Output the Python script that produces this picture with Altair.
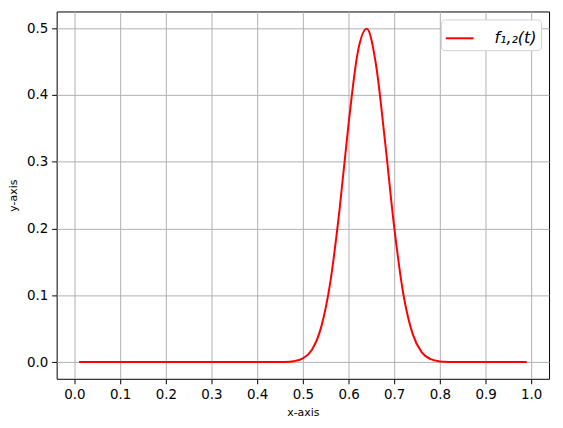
import altair as alt
import pandas as pd

# Curve samples (t, f_{1,2}(t))
t_vals = [0.01, 0.10, 0.20, 0.30, 0.40, 0.42, 0.44, 0.46, 0.48, 0.50, 0.52, 0.54,
          0.56, 0.58, 0.60, 0.62, 0.64, 0.66, 0.68, 0.70, 0.72, 0.74, 0.76, 0.78,
          0.80, 0.82, 0.84, 0.90, 0.99]
f_vals = [0.0, 0.0, 0.0, 0.0, 0.0, 0.0, 0.00005, 0.0003, 0.0014, 0.0056, 0.0186, 0.052,
          0.119, 0.226, 0.356, 0.463, 0.499, 0.446, 0.330, 0.202, 0.102, 0.043, 0.0149, 0.0043,
          0.0010, 0.0002, 0.00003, 0.0, 0.0]
series_name = "f₁,₂(t)"

x_ticks = [0.0, 0.1, 0.2, 0.3, 0.4, 0.5, 0.6, 0.7, 0.8, 0.9, 1.0]
y_ticks = [0.0, 0.1, 0.2, 0.3, 0.4, 0.5]

df = pd.DataFrame({"t": t_vals, "f": f_vals, "series": [series_name] * len(t_vals)})

axis_common = dict(
    grid=True, gridColor="#b0b0b0", gridWidth=1,
    domain=False, ticks=True, tickColor="black", tickWidth=1, tickSize=5,
    labelFont="DejaVu Sans", labelFontSize=13.5, labelColor="black", labelPadding=4,
    titleFont="DejaVu Sans", titleFontSize=11, titleFontWeight="normal", titleColor="black",
)

chart = alt.Chart(df).mark_line(strokeWidth=2, interpolate="monotone").encode(
    x=alt.X("t:Q",
            scale=alt.Scale(domain=[-0.039, 1.039], nice=False, zero=False),
            axis=alt.Axis(values=x_ticks, format=".1f", title="x-axis", titlePadding=5,
                          **axis_common)),
    y=alt.Y("f:Q",
            scale=alt.Scale(domain=[-0.025, 0.525], nice=False, zero=False),
            axis=alt.Axis(values=y_ticks, format=".1f", title="y-axis", titlePadding=8,
                          **axis_common)),
    color=alt.Color("series:N", scale=alt.Scale(range=["#ff0000"]),
                    legend=alt.Legend(title=None, orient="top-right", offset=8,
                                      padding=4, fillColor="white", strokeColor="#d0d0d0",
                                      cornerRadius=4, symbolType="stroke", symbolSize=784,
                                      symbolStrokeWidth=2, labelFont="DejaVu Sans",
                                      labelFontSize=16, labelFontStyle="italic",
                                      labelColor="black", labelOffset=20, labelLimit=200)),
).properties(
    width=496, height=370,
    padding={"left": 49, "top": 2, "right": 6, "bottom": 40},
    autosize="none",
).configure_view(stroke="black", strokeWidth=1)

chart.save("out.html", embed_options={"renderer": "svg", "actions": False})
